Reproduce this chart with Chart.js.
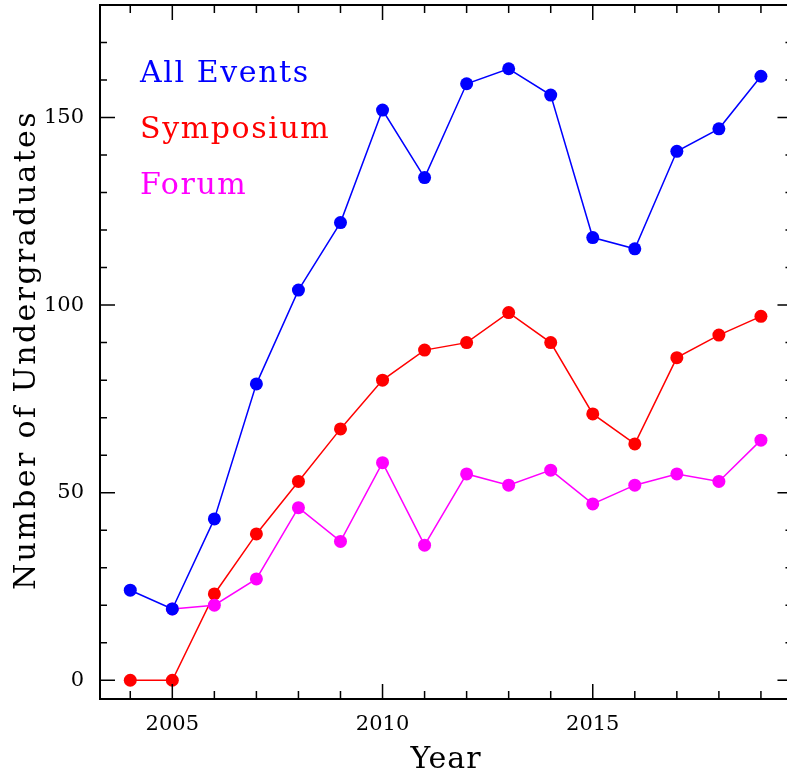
<!DOCTYPE html>
<html>
<head>
<meta charset="utf-8">
<script src="https://cdn.jsdelivr.net/npm/chart.js@4/dist/chart.umd.min.js"></script>
<style>
  html, body { margin: 0; padding: 0; background: #fff; overflow: hidden; }
  canvas { display: block; }
</style>
</head>
<body>
<canvas id="chart" width="787" height="778"></canvas>
<script>
// Data
const years = [2004, 2005, 2006, 2007, 2008, 2009, 2010, 2011, 2012, 2013, 2014, 2015, 2016, 2017, 2018, 2019];
const allEvents = [24, 19, 43, 79, 104, 122, 152, 134, 159, 163, 156, 118, 115, 141, 147, 161];
const symposium = [0, 0, 23, 39, 53, 67, 80, 88, 90, 98, 90, 71, 63, 86, 92, 97];
const forum = [null, 19, 20, 27, 46, 37, 58, 36, 55, 52, 56, 47, 52, 55, 53, 64];
const xTicks = [2005, 2010, 2015];
const yTicks = [0, 50, 100, 150];

const FONT = '"DejaVu Serif", serif';
// the original frame ends just past the cropped right edge
const FRAME_RIGHT = 2019.75;

function toPoints(values) {
    return years.map((yr, i) => ({ x: yr, y: values[i] })).filter(p => p.y !== null);
}

function series(label, values, color, order) {
    return {
        label: label,
        data: toPoints(values),
        borderColor: color,
        backgroundColor: color,
        pointBackgroundColor: color,
        pointBorderColor: color,
        borderWidth: 1.5,
        pointRadius: 6.5,
        pointBorderWidth: 0,
        tension: 0,
        clip: false,
        order: order
    };
}

// no extra label padding, the plot box is fixed
function fixBox(s) {
    s.paddingTop = 0;
    s.paddingBottom = 0;
    s.paddingLeft = 0;
    s.paddingRight = 0;
}

// frame, inward ticks, titles and in-plot legend
const framePlugin = {
    id: 'frame',
    afterDraw(chart) {
        const ctx = chart.ctx;
        const a = chart.chartArea;
        const xs = chart.scales.x;
        const ys = chart.scales.y;
        const right = xs.getPixelForValue(FRAME_RIGHT);
        ctx.save();
        ctx.strokeStyle = '#000';

        ctx.lineWidth = 1.5;
        ctx.beginPath();
        years.forEach(yr => {
            const px = xs.getPixelForValue(yr);
            const len = yr % 5 === 0 ? 15 : 8;
            ctx.moveTo(px, a.bottom); ctx.lineTo(px, a.bottom - len);
            ctx.moveTo(px, a.top); ctx.lineTo(px, a.top + len);
        });
        for (let v = 0; v <= 180; v += 10) {
            const py = ys.getPixelForValue(v);
            const len = v % 50 === 0 ? 15 : 7;
            ctx.moveTo(a.left, py); ctx.lineTo(a.left + len, py);
            ctx.moveTo(right, py); ctx.lineTo(right - len, py);
        }
        ctx.stroke();

        ctx.lineWidth = 2;
        ctx.strokeRect(a.left, a.top, right - a.left, a.bottom - a.top);

        // axis titles
        ctx.fillStyle = '#000';
        ctx.font = '30px ' + FONT;
        ctx.letterSpacing = '1px';
        ctx.textAlign = 'center';
        ctx.textBaseline = 'alphabetic';
        ctx.fillText('Year', 446, 768);

        ctx.save();
        ctx.translate(35, 350);
        ctx.rotate(-Math.PI / 2);
        ctx.letterSpacing = '2.4px';
        ctx.fillText('Number of Undergraduates', 0, 0);
        ctx.restore();

        // legend texts
        ctx.textAlign = 'left';
        ctx.letterSpacing = '1.6px';
        const items = [['All Events', '#0000ff', 82], ['Symposium', '#ff0000', 138], ['Forum', '#ff00ff', 194]];
        items.forEach(it => {
            ctx.fillStyle = it[1];
            ctx.fillText(it[0], 140, it[2]);
        });
        ctx.restore();
    }
};

const ctx = document.getElementById('chart').getContext('2d');
const chart = new Chart(ctx, {
    type: 'line',
    data: {
        datasets: [
            series('All Events', allEvents, '#0000ff', 1),
            series('Forum', forum, '#ff00ff', 2),
            series('Symposium', symposium, '#ff0000', 3)
        ]
    },
    options: {
        responsive: false,
        animation: false,
        layout: {
            autoPadding: false,
            padding: { top: 5, right: 0, left: 0, bottom: 0 }
        },
        plugins: {
            legend: { display: false },
            tooltip: { enabled: false }
        },
        scales: {
            x: {
                type: 'linear',
                min: 2003.28,
                max: 2019.62,
                afterBuildTicks: s => { s.ticks = xTicks.map(v => ({ value: v })); },
                afterFit: s => { s.height = 79; fixBox(s); },
                grid: { display: false, drawTicks: false },
                border: { display: false },
                ticks: {
                    color: '#000',
                    padding: 13,
                    maxRotation: 0,
                    font: { family: FONT, size: 21 },
                    callback: v => String(v)
                }
            },
            y: {
                min: -5,
                max: 180,
                afterBuildTicks: s => { s.ticks = yTicks.map(v => ({ value: v })); },
                afterFit: s => { s.width = 100; fixBox(s); },
                grid: { display: false, drawTicks: false },
                border: { display: false },
                ticks: {
                    color: '#000',
                    padding: 16,
                    font: { family: FONT, size: 21 },
                    callback: v => String(v)
                }
            }
        }
    },
    plugins: [framePlugin]
});
</script>
</body>
</html>
